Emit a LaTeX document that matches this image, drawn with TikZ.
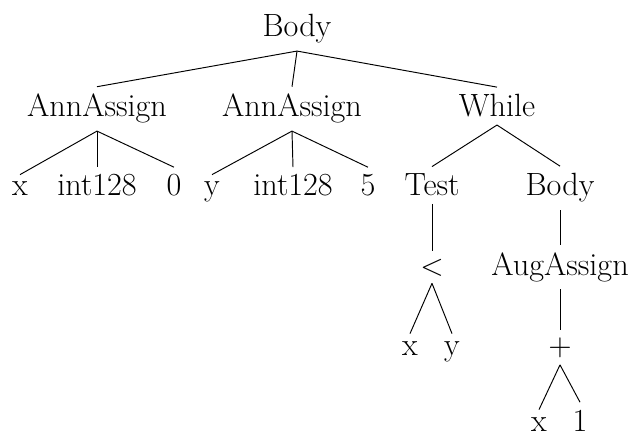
\documentclass[tikz,border=0pt]{standalone}
\usepackage{tikz}
\tikzset{
  tn/.style    = {font=\fontsize{15.1}{18}\selectfont, anchor=base, inner sep=0.3333em},
  branch/.style= {draw=black, line width=0.45pt},
}
\begin{document}
\begin{tikzpicture}[x=0.4692pt, y=-0.4692pt]
    \useasboundingbox (0,0) rectangle (633,433);
    % level 1 and 2
    \node[tn] (top)  at (297,37)  {Body};
    \node[tn] (ann1) at (97,117)  {AnnAssign};
    \node[tn] (ann2) at (292,117) {AnnAssign};
    \node[tn] (wh)   at (497,117) {While};
    % level 3
    \node[tn] (xa)   at (20,196)  {x};
    \node[tn] (ta)   at (97,196)  {int128};
    \node[tn] (va)   at (174,196) {0};
    \node[tn] (yb)   at (212,196) {y};
    \node[tn] (tb)   at (293,196) {int128};
    \node[tn] (vb)   at (368,196) {5};
    \node[tn] (test) at (432,196) {Test};
    \node[tn] (bd)   at (560,196) {Body};
    % loop part
    \node[tn] (lt)   at (432,275) {$<$};
    \node[tn] (aug)  at (560,275) {AugAssign};
    \node[tn] (xc)   at (410,355) {x};
    \node[tn] (yc)   at (452,355) {y};
    \node[tn] (plus) at (560,355) {$+$};
    \node[tn] (xd)   at (539,431) {x};
    \node[tn] (one)  at (580,431) {1};
    \draw[branch] (top.south) -- (ann1.north);
    \draw[branch] (top.south) -- (ann2.north);
    \draw[branch] (top.south) -- (wh.north);
    \draw[branch] (ann1.south) -- (xa.north);
    \draw[branch] (ann1.south) -- (ta.north);
    \draw[branch] (ann1.south) -- (va.north);
    \draw[branch] (ann2.south) -- (yb.north);
    \draw[branch] (ann2.south) -- (tb.north);
    \draw[branch] (ann2.south) -- (vb.north);
    \draw[branch] (wh.south) -- (test.north);
    \draw[branch] (wh.south) -- (bd.north);
    \draw[branch] (test.south) -- (lt.north);
    \draw[branch] (bd.south) -- (aug.north);
    \draw[branch] (lt.south) -- (xc.north);
    \draw[branch] (lt.south) -- (yc.north);
    \draw[branch] (aug.south) -- (plus.north);
    \draw[branch] (plus.south) -- (xd.north);
    \draw[branch] (plus.south) -- (one.north);
\end{tikzpicture}
\end{document}
